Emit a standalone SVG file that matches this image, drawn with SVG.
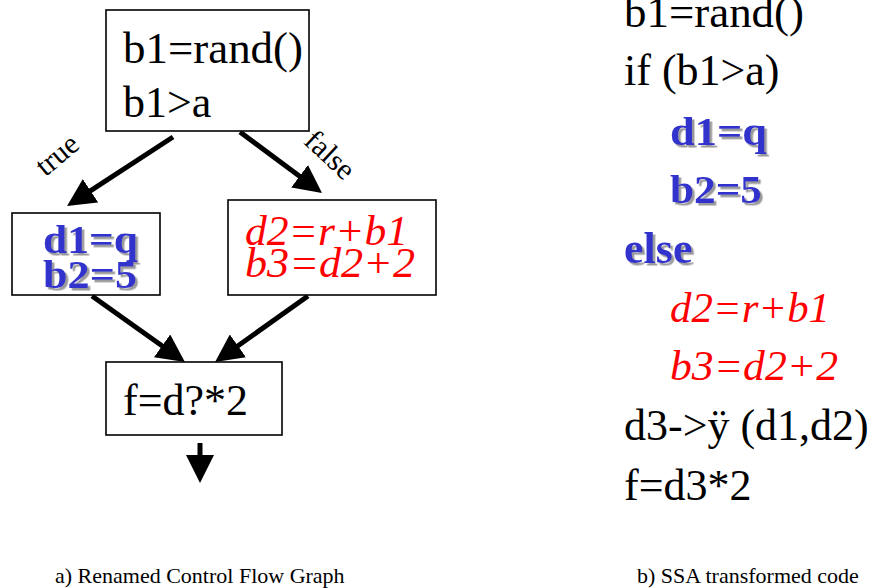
<svg xmlns="http://www.w3.org/2000/svg" width="874" height="588" viewBox="0 0 874 588" font-family="'Liberation Serif', 'Times New Roman', serif">
<style>
.box{fill:#fff;stroke:#000;stroke-width:1.6;}
.big{font-size:44px;fill:#000;}
.blue{font-size:40px;font-weight:bold;fill:#3333CC;filter:url(#sh);}
.blue44{font-size:44px;font-weight:bold;fill:#3333CC;filter:url(#sh);}
.red{font-size:42px;font-style:italic;fill:#FF0000;}
.lbl{font-size:30px;fill:#000;}
.cap{font-size:22px;fill:#000;}
.edge{stroke:#000;stroke-width:5;fill:none;marker-end:url(#ah);}
</style>
<defs>
<filter id="sh" x="-10%" y="-10%" width="130%" height="140%">
<feDropShadow dx="2.5" dy="2.5" stdDeviation="0.6" flood-color="#9a9a9a" flood-opacity="1"/>
</filter>
<marker id="ah" markerUnits="userSpaceOnUse" markerWidth="28" markerHeight="28" viewBox="0 0 28 28" refX="8" refY="14" orient="auto">
<path d="M0,0 L28,14 L0,28 z" fill="#000"/>
</marker>
</defs>
<rect width="874" height="588" fill="#fff"/>
<g id="connectors">
<line class="edge" x1="173" y1="137" x2="83.8" y2="195.1"/>
<line class="edge" x1="240" y1="132" x2="306" y2="181.1"/>
<line class="edge" x1="92" y1="296" x2="168.6" y2="350.5"/>
<line class="edge" x1="308" y1="296" x2="231.4" y2="350.5"/>
<line class="edge" x1="200" y1="443" x2="200" y2="463"/>
<text class="lbl" transform="translate(59,157) rotate(-40)" text-anchor="middle" dominant-baseline="middle">true</text>
<text class="lbl" transform="translate(328,157) rotate(43)" text-anchor="middle" dominant-baseline="middle">false</text>
</g>
<g id="node-entry">
<rect class="box" x="106" y="10" width="203" height="121"/>
<text class="big" x="123" y="63" textLength="180" lengthAdjust="spacingAndGlyphs">b1=rand()</text>
<text class="big" x="123" y="117">b1&gt;a</text>
</g>
<g id="node-true">
<rect class="box" x="12" y="213" width="148" height="82"/>
<text class="blue" x="43" y="253" textLength="95" lengthAdjust="spacingAndGlyphs">d1=q</text>
<text class="blue" x="43" y="288" textLength="94" lengthAdjust="spacingAndGlyphs">b2=5</text>
</g>
<g id="node-false">
<rect class="box" x="228" y="200" width="208" height="95"/>
<text class="red" x="245" y="245" textLength="163" lengthAdjust="spacingAndGlyphs">d2=r+b1</text>
<text class="red" x="245" y="277" textLength="170" lengthAdjust="spacingAndGlyphs">b3=d2+2</text>
</g>
<g id="node-join">
<rect class="box" x="106" y="362" width="176" height="73"/>
<text class="big" x="123" y="415">f=d?*2</text>
</g>
<g id="code">
<text class="big" x="624" y="27" textLength="180" lengthAdjust="spacingAndGlyphs">b1=rand()</text>
<text class="big" x="624" y="85">if (b1&gt;a)</text>
<text class="blue" x="670" y="145" textLength="97" lengthAdjust="spacingAndGlyphs">d1=q</text>
<text class="blue" x="670" y="203" textLength="92" lengthAdjust="spacingAndGlyphs">b2=5</text>
<text class="blue44" x="624" y="263">else</text>
<text class="red" x="670" y="322" textLength="160" lengthAdjust="spacingAndGlyphs">d2=r+b1</text>
<text class="red" x="670" y="380" textLength="168" lengthAdjust="spacingAndGlyphs">b3=d2+2</text>
<text class="big" x="624" y="440">d3-&gt;ÿ (d1,d2)</text>
<text class="big" x="624" y="500">f=d3*2</text>
</g>
<g id="captions">
<text class="cap" x="55" y="583">a) Renamed Control Flow Graph</text>
<text class="cap" x="637" y="583">b) SSA transformed code</text>
</g>
</svg>
